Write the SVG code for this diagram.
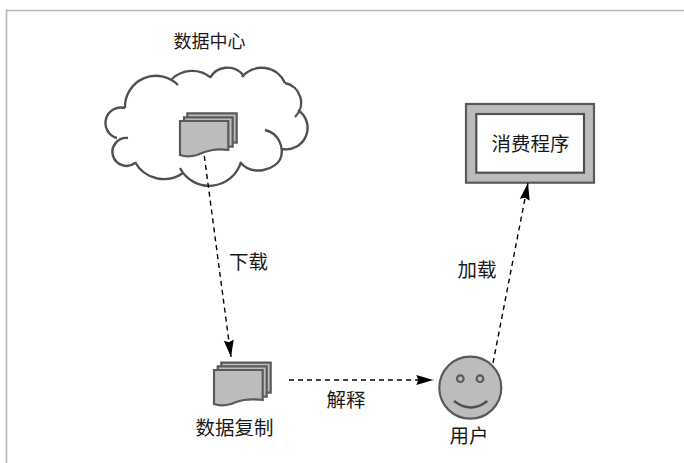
<svg xmlns="http://www.w3.org/2000/svg" width="684" height="463" viewBox="0 0 684 463">
<style>
text{font-family:"Noto Sans CJK SC","Liberation Sans",sans-serif;font-size:19.5px;fill:#1a1a1a;text-anchor:middle}
.ln{fill:none;stroke:#505050;stroke-width:2.4}
.g{fill:#bcbcbc;stroke:#5a5a5a;stroke-width:2.2}
.d{fill:none;stroke:#000;stroke-width:1.4;stroke-dasharray:5 4;marker-end:url(#a)}
</style>
<defs><marker id="a" markerUnits="userSpaceOnUse" markerWidth="18" markerHeight="12" refX="17" refY="6" orient="auto"><path d="M0 1L17 6L0 11L2 6Z" fill="#000"/></marker></defs>
<rect width="684" height="463" fill="#fff"/>
<path d="M6.500 463V10.500H684" fill="none" stroke="#b5b5b5" stroke-width="1.600"/>
<g id="data-center">
<path class="ln" d="M125 108A31 31 0 0 1 178 85M172 79A29 29 0 0 1 210 77M210 78A20 20 0 0 1 243 75M242 77A25.500 25.500 0 0 1 285 83M285 83A20 20 0 0 1 295 117M298 110A21.500 21.500 0 0 1 282 149M265 130C278 133 284 146 281 157C277 170 252 177 240 162M241 162A33 33 0 0 1 180 168M183 173A33 33 0 0 1 135 162M135 163A14 14 0 1 1 128 138M117 138A15.500 15.500 0 0 1 125 108"/>
<text x="209.500" y="48" style="font-size:18px">数据中心</text>
<g>
<path class="g" d="M187.300 142V113.300H236.700V142.700Z"/>
<path class="g" d="M184 146V117.300H232.700V146.700Z"/>
<path class="g" d="M180 121H228.300V150C212 148 205 152 197 155C190 157 186 157 180 155Z"/>
</g>
</g>
<g id="data-copy">
<path class="g" d="M221.300 392V362.700H270.700V392.700Z"/>
<path class="g" d="M217.700 396V366.300H266.700V396.700Z"/>
<path class="g" d="M214 370H262.700V400C246 398 239 401 231 404C224 406 220 406 214 404Z"/>
<text x="234.500" y="435">数据复制</text>
</g>
<g id="user">
<circle class="g" cx="470.300" cy="387.700" r="31"/>
<circle class="g" cx="460.300" cy="378.700" r="3.300"/>
<circle class="g" cx="480" cy="378.700" r="3.300"/>
<path class="ln" d="M454 401Q471 414 487.300 401"/>
<text x="469" y="443">用户</text>
</g>
<g id="consumer">
<rect x="466" y="104" width="128" height="78.700" fill="#bcbcbc" stroke="#5a5a5a" stroke-width="2.200"/>
<rect x="476.300" y="114" width="107.700" height="58.700" fill="#fff" stroke="#505050" stroke-width="2.200"/>
<text x="530.500" y="151">消费程序</text>
</g>
<g id="connectors">
<path class="d" d="M204.300 156L231 357"/>
<path class="d" d="M289 380H433.300"/>
<path class="d" d="M493 363L528 183"/>
</g>
<text x="248.500" y="269">下载</text>
<text x="477" y="277">加载</text>
<text x="346" y="407">解释</text>
</svg>
